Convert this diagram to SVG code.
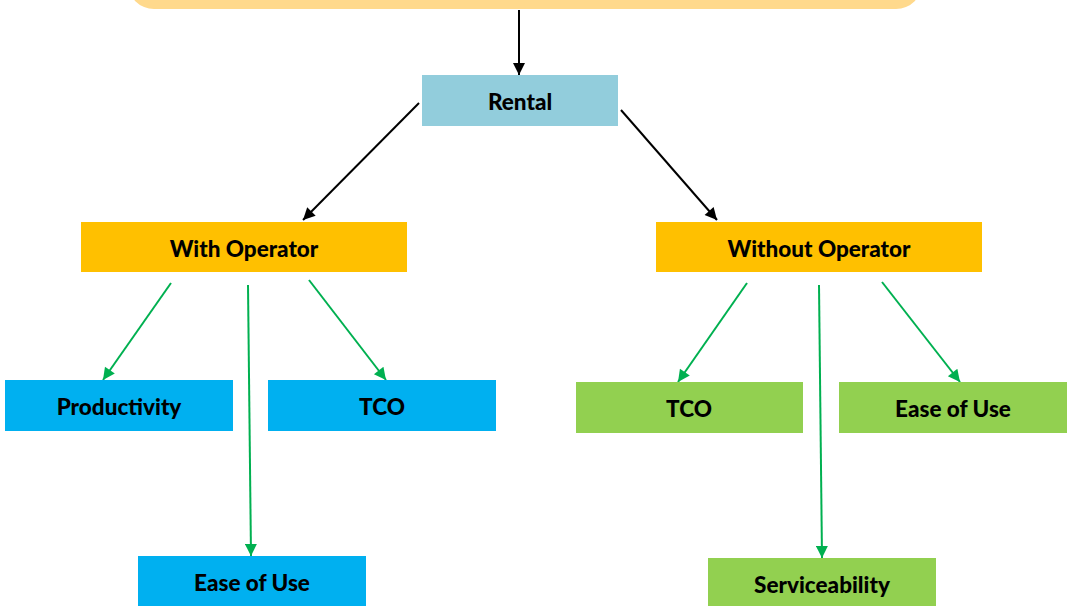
<svg xmlns="http://www.w3.org/2000/svg" width="1075" height="606" viewBox="0 0 1075 606">
<style>
text{font-family:Lato,"Open Sans","Liberation Sans",sans-serif;font-weight:900;font-size:22.5px;fill:#000;text-anchor:middle;dominant-baseline:central}
.blk{stroke:#000;stroke-width:2;fill:none}
.grn{stroke:#00B050;stroke-width:2;fill:none}
</style>
<defs>
<marker id="ab" viewBox="0 0 10 10" refX="10" refY="5" markerWidth="14" markerHeight="12" markerUnits="userSpaceOnUse" orient="auto"><path d="M0,0 L10,5 L0,10 z" fill="#000"/></marker>
<marker id="ag" viewBox="0 0 10 10" refX="10" refY="5" markerWidth="14" markerHeight="12" markerUnits="userSpaceOnUse" orient="auto"><path d="M0,0 L10,5 L0,10 z" fill="#00B050"/></marker>
</defs>
<rect width="1075" height="606" fill="#fff"/>
<g id="top"><rect x="128" y="-60" width="794" height="69" rx="26" fill="#FFD98C"/></g>
<g id="connectors">
<line class="blk" x1="519" y1="10" x2="519" y2="75" marker-end="url(#ab)"/>
<line class="blk" x1="419" y1="103" x2="303" y2="220" marker-end="url(#ab)"/>
<line class="blk" x1="621" y1="110" x2="717" y2="220" marker-end="url(#ab)"/>
<line class="grn" x1="171" y1="283" x2="103" y2="380" marker-end="url(#ag)"/>
<line class="grn" x1="248" y1="285" x2="251" y2="556" marker-end="url(#ag)"/>
<line class="grn" x1="309" y1="280" x2="386" y2="380" marker-end="url(#ag)"/>
<line class="grn" x1="747" y1="283" x2="678" y2="382" marker-end="url(#ag)"/>
<line class="grn" x1="819" y1="285" x2="822" y2="558" marker-end="url(#ag)"/>
<line class="grn" x1="882" y1="282" x2="960" y2="382" marker-end="url(#ag)"/>
</g>
<g id="rental"><rect x="422" y="75" width="196" height="51" fill="#92CDDC"/><text x="520" y="101">Rental</text></g>
<g id="with-op"><rect x="81" y="222" width="326" height="50" fill="#FFC000"/><text x="244" y="248">With Operator</text></g>
<g id="without-op"><rect x="656" y="222" width="326" height="50" fill="#FFC000"/><text x="819" y="248">Without Operator</text></g>
<g id="productivity"><rect x="5" y="380" width="228" height="51" fill="#00B0F0"/><text x="119" y="406">Productivity</text></g>
<g id="tco-left"><rect x="268" y="380" width="228" height="51" fill="#00B0F0"/><text x="382" y="406">TCO</text></g>
<g id="ease-left"><rect x="138" y="556" width="228" height="50" fill="#00B0F0"/><text x="252" y="582">Ease of Use</text></g>
<g id="tco-right"><rect x="576" y="382" width="227" height="51" fill="#92D050"/><text x="689" y="408">TCO</text></g>
<g id="ease-right"><rect x="839" y="382" width="228" height="51" fill="#92D050"/><text x="953" y="408">Ease of Use</text></g>
<g id="service"><rect x="708" y="558" width="228" height="50" fill="#92D050"/><text x="822" y="584">Serviceability</text></g>
</svg>
